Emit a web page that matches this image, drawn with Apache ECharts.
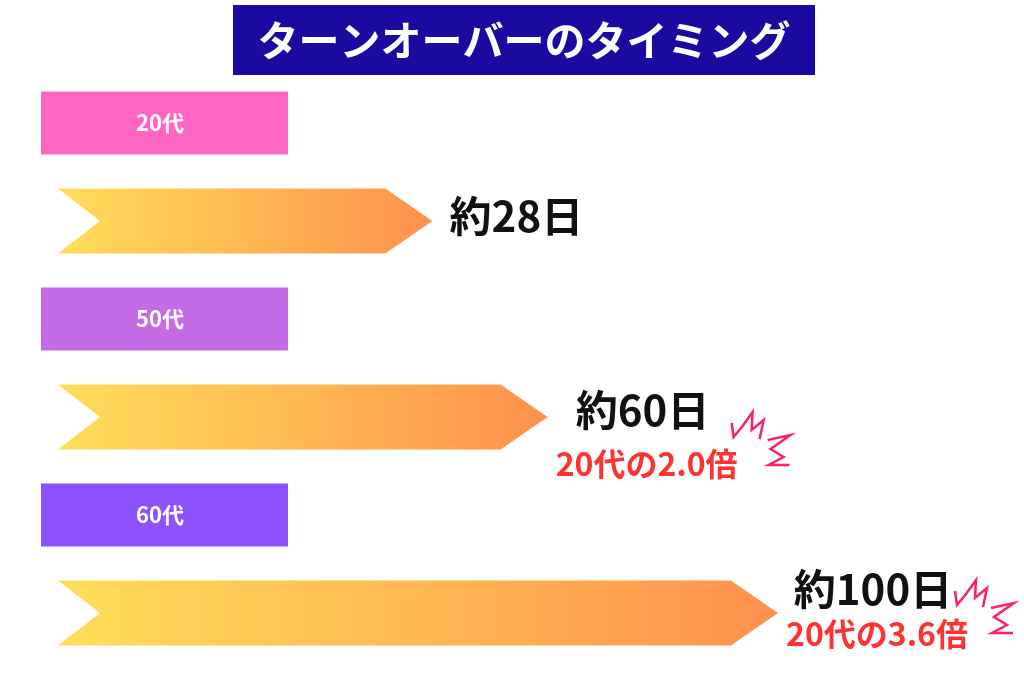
<!DOCTYPE html>
<html><head><meta charset="utf-8">
<script src="https://cdn.jsdelivr.net/npm/echarts@6/dist/echarts.min.js"></script>
<style>html,body{margin:0;padding:0;background:#fff}#c{width:1024px;height:683px}</style>
</head><body><div id="c"></div>
<script>
const title = 'ターンオーバーのタイミング';
const ageLabels = ['20代', '50代', '60代'];
const ageColors = ['#ff66c4', '#c56be6', '#8c52ff'];
const days = [28, 60, 100];
const dayLabels = ['約28日', '約60日', '約100日'];
const ratioLabels = ['', '20代の2.0倍', '20代の3.6倍'];
const arrowLengths = [52, 68, 100]; // relative visual length
const rows = ['a0', 'b0', 'a1', 'b1', 'a2', 'b2'];

const F = '"Noto Sans CJK JP", sans-serif';
const chart = echarts.init(document.getElementById('c'));

const boxData = ageLabels.map((l, i) => [0, i * 2, l, ageColors[i]]);
const arrowData = arrowLengths.map((v, i) => [v, i * 2 + 1, dayLabels[i], ratioLabels[i], days[i]]);
const mainDy = [-5, -7, -24], subDy = [0, 47, 21], burstDy = [0, 0, -28];

chart.setOption({
  animation: false,
  graphic: [
    { type: 'rect', shape: { x: 233, y: 5, width: 582, height: 70 }, style: { fill: '#1a0aa0' } },
    { type: 'text', x: 524, y: 40, style: { text: title, fill: '#fff', font: 'bold 41px ' + F, textAlign: 'center', textVerticalAlign: 'middle' } }
  ],
  grid: { left: 58, right: 246, top: 74, bottom: 21 },
  xAxis: { type: 'value', min: 0, max: 100, show: false },
  yAxis: { type: 'category', data: rows, inverse: true, show: false },
  series: [
    {
      type: 'custom', data: boxData,
      renderItem: (p, api) => {
        const c = api.coord([0, api.value(1)]);
        const h = 63;
        return { type: 'group', children: [
          { type: 'rect', shape: { x: c[0] - 17, y: c[1] - h / 2, width: 247, height: h }, style: { fill: boxData[p.dataIndex][3] } },
          { type: 'text', x: c[0] + 102, y: c[1], style: { text: boxData[p.dataIndex][2], fill: '#fff', font: 'bold 22px ' + F, textAlign: 'center', textVerticalAlign: 'middle' } }
        ]};
      }
    },
    {
      type: 'custom', data: arrowData,
      renderItem: (p, api) => {
        const i = p.dataIndex, d = arrowData[i];
        const s = api.coord([0, api.value(1)]);
        const e = api.coord([api.value(0), api.value(1)]);
        const h = 65, t = s[1] - h / 2, b = s[1] + h / 2, tip = e[0], body = tip - 47;
        const children = [
          { type: 'polygon', shape: { points: [[s[0], t], [body, t], [tip, s[1]], [body, b], [s[0], b], [s[0] + 42, s[1]]] },
            style: { fill: new echarts.graphic.LinearGradient(0, 0, 1, 0, [{ offset: 0, color: '#ffde59' }, { offset: 1, color: '#ff914d' }]) } }
        ];
        const hasSub = !!d[3];
        const cx = tip + (hasSub ? 95 : 84);
        children.push({ type: 'text', x: cx, y: s[1] + mainDy[i], style: { text: d[2], fill: '#111', font: 'bold 42px ' + F, textAlign: 'center', textVerticalAlign: 'middle' } });
        if (hasSub) {
          children.push({ type: 'text', x: cx + 4, y: s[1] + subDy[i], style: { text: d[3], fill: '#ff3131', font: 'bold 32px ' + F, textAlign: 'center', textVerticalAlign: 'middle' } });
          const bx = cx + (i === 2 ? 82 : 89), by = s[1] + burstDy[i];
          const st = { stroke: '#ff1f6a', lineWidth: 2.5, fill: null };
          children.push({ type: 'polyline', shape: { points: [[bx, by + 6], [bx + 2, by + 20], [bx + 11, by + 9], [bx + 21, by - 5], [bx + 20, by + 13], [bx + 32, by + 3], [bx + 28, by + 22]] }, style: st });
          children.push({ type: 'polyline', shape: { points: [[bx + 36, by + 23], [bx + 59, by + 18], [bx + 39, by + 32], [bx + 52, by + 40], [bx + 37, by + 48], [bx + 58, by + 48]] }, style: st });
        }
        return { type: 'group', children };
      }
    }
  ]
});
</script></body></html>
